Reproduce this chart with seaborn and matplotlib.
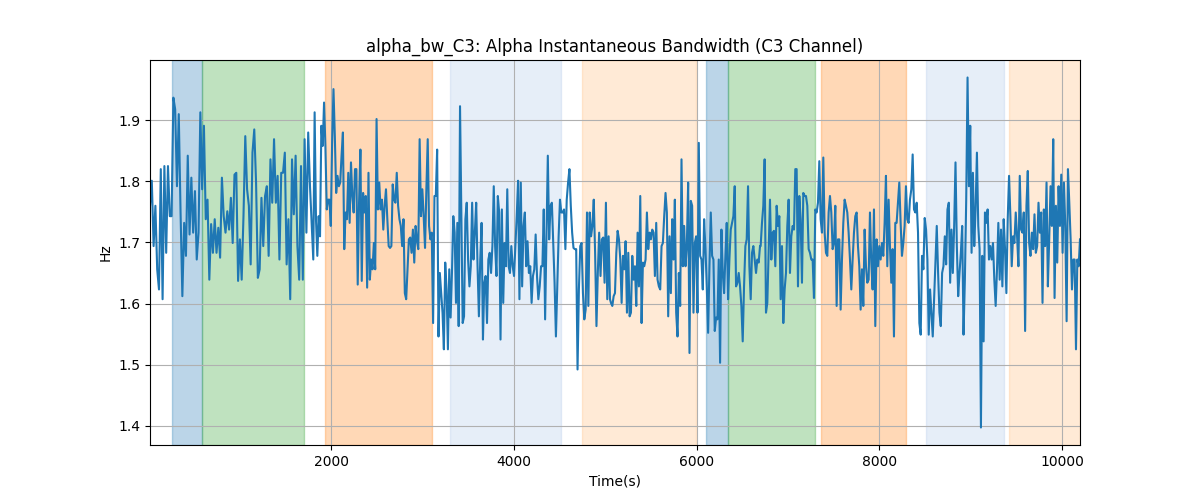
import numpy as np
import pandas as pd
import matplotlib
matplotlib.use("Agg")
import matplotlib.pyplot as plt
import seaborn as sns

# Bandwidth values (Hz) in six consecutive chunks
v1 = [1.760, 1.801, 1.694, 1.760, 1.656, 1.623, 1.820, 1.607, 1.825, 1.683, 1.825, 1.743, 1.743, 1.937, 1.918,
      1.792, 1.910, 1.749, 1.612, 1.732, 1.678, 1.842, 1.713, 1.806, 1.716, 1.784, 1.672, 1.716, 1.913, 1.787,
      1.891, 1.738, 1.770, 1.639, 1.730, 1.683, 1.738, 1.683, 1.724, 1.675, 1.806, 1.743, 1.716, 1.751, 1.721,
      1.773, 1.699, 1.811, 1.814, 1.637, 1.705, 1.639, 1.743, 1.874, 1.787, 1.760, 1.664, 1.847, 1.885, 1.798,
      1.642, 1.656, 1.773, 1.694, 1.776, 1.792, 1.678, 1.836, 1.765, 1.869, 1.765, 1.809, 1.672, 1.814, 1.814,
      1.847, 1.664, 1.738, 1.607, 1.836, 1.746, 1.842, 1.694, 1.639, 1.825, 1.639, 1.869, 1.716, 1.880, 1.792]
v2 = [1.672, 1.913, 1.738, 1.678, 1.743, 1.710, 1.891, 1.858, 1.929, 1.858, 1.754, 1.770, 1.770, 1.727, 1.863,
      1.951, 1.874, 1.781, 1.809, 1.792, 1.798, 1.842, 1.880, 1.689, 1.749, 1.738, 1.814, 1.732, 1.831, 1.776,
      1.749, 1.820, 1.820, 1.631, 1.765, 1.852, 1.637, 1.781, 1.749, 1.776, 1.626, 1.814, 1.639, 1.672, 1.656,
      1.699, 1.656, 1.902, 1.754, 1.798, 1.754, 1.770, 1.721, 1.760, 1.787, 1.738, 1.694, 1.691, 1.694, 1.795,
      1.770, 1.765, 1.814, 1.760, 1.738, 1.727, 1.694, 1.738, 1.617, 1.607, 1.656, 1.705, 1.708, 1.683, 1.721,
      1.667, 1.727, 1.702, 1.689, 1.869, 1.743, 1.787, 1.743, 1.691, 1.787, 1.869, 1.727, 1.705, 1.716, 1.568,
      1.776, 1.776, 1.852, 1.546, 1.650, 1.617, 1.585, 1.525, 1.667, 1.623, 1.525, 1.656, 1.577, 1.650, 1.743,
      1.716, 1.601, 1.732, 1.563, 1.923]
v3 = [1.568, 1.579, 1.738, 1.765, 1.672, 1.628, 1.661, 1.765, 1.672, 1.716, 1.765, 1.661, 1.579, 1.672, 1.732,
      1.541, 1.634, 1.645, 1.568, 1.672, 1.683, 1.650, 1.694, 1.792, 1.694, 1.645, 1.776, 1.749, 1.541, 1.754,
      1.601, 1.699, 1.661, 1.787, 1.661, 1.650, 1.694, 1.661, 1.645, 1.694, 1.743, 1.801, 1.607, 1.798, 1.628,
      1.727, 1.749, 1.661, 1.702, 1.650, 1.661, 1.601, 1.645, 1.656, 1.713, 1.645, 1.607, 1.628, 1.661, 1.661,
      1.754, 1.574, 1.705, 1.842, 1.705, 1.760, 1.765, 1.699, 1.634, 1.546, 1.628, 1.710, 1.770, 1.749, 1.749,
      1.754, 1.689, 1.770, 1.798, 1.820, 1.760, 1.716, 1.691, 1.689, 1.689, 1.492, 1.623, 1.694, 1.699, 1.617,
      1.574, 1.590, 1.749, 1.596, 1.749, 1.710, 1.727, 1.770, 1.683, 1.563, 1.650, 1.716, 1.645, 1.705, 1.708,
      1.634, 1.765, 1.607, 1.710, 1.607]
v4 = [1.601, 1.596, 1.612, 1.617, 1.683, 1.719, 1.705, 1.672, 1.601, 1.678, 1.656, 1.702, 1.585, 1.683, 1.579,
      1.585, 1.678, 1.639, 1.661, 1.596, 1.716, 1.628, 1.776, 1.568, 1.667, 1.661, 1.672, 1.749, 1.689, 1.716,
      1.705, 1.721, 1.716, 1.645, 1.732, 1.639, 1.628, 1.623, 1.694, 1.699, 1.743, 1.781, 1.749, 1.579, 1.710,
      1.617, 1.738, 1.672, 1.770, 1.585, 1.546, 1.650, 1.596, 1.836, 1.661, 1.727, 1.661, 1.694, 1.798, 1.519,
      1.768, 1.760, 1.585, 1.699, 1.710, 1.585, 1.863, 1.678, 1.672, 1.623, 1.738, 1.689, 1.628, 1.552, 1.661,
      1.749, 1.678, 1.672, 1.555, 1.577, 1.574, 1.672, 1.503, 1.721, 1.650, 1.617, 1.678, 1.732, 1.607, 1.672,
      1.721, 1.732, 1.743, 1.792, 1.628, 1.634, 1.650, 1.628, 1.596, 1.538, 1.628, 1.694, 1.705, 1.792, 1.661,
      1.607, 1.683, 1.694, 1.672, 1.650, 1.672, 1.667, 1.694]
v5 = [1.694, 1.732, 1.760, 1.836, 1.585, 1.601, 1.689, 1.770, 1.672, 1.716, 1.719, 1.661, 1.760, 1.727, 1.743,
      1.607, 1.694, 1.568, 1.623, 1.650, 1.727, 1.770, 1.650, 1.710, 1.727, 1.721, 1.820, 1.820, 1.628, 1.776,
      1.738, 1.634, 1.781, 1.776, 1.776, 1.760, 1.689, 1.683, 1.672, 1.672, 1.609, 1.754, 1.749, 1.765, 1.833,
      1.738, 1.716, 1.839, 1.716, 1.683, 1.678, 1.749, 1.776, 1.749, 1.689, 1.699, 1.760, 1.596, 1.705, 1.705,
      1.590, 1.672, 1.732, 1.770, 1.760, 1.749, 1.716, 1.672, 1.623, 1.672, 1.716, 1.743, 1.749, 1.694, 1.661,
      1.590, 1.656, 1.596, 1.721, 1.661, 1.634, 1.639, 1.749, 1.667, 1.623, 1.754, 1.563, 1.705, 1.661, 1.694,
      1.672, 1.699, 1.678, 1.732, 1.809, 1.661, 1.770, 1.694, 1.634, 1.689, 1.546, 1.732, 1.732, 1.765, 1.798,
      1.732, 1.678, 1.699, 1.727, 1.792, 1.738, 1.732, 1.770]
v6 = [1.787, 1.844, 1.754, 1.749, 1.765, 1.716, 1.568, 1.549, 1.678, 1.656, 1.740, 1.721, 1.672, 1.549, 1.623,
      1.585, 1.546, 1.607, 1.667, 1.727, 1.650, 1.585, 1.563, 1.650, 1.661, 1.710, 1.664, 1.754, 1.765, 1.634,
      1.721, 1.650, 1.727, 1.831, 1.694, 1.612, 1.650, 1.683, 1.727, 1.549, 1.639, 1.770, 1.970, 1.792, 1.891,
      1.683, 1.814, 1.694, 1.754, 1.847, 1.727, 1.689, 1.397, 1.678, 1.538, 1.749, 1.732, 1.754, 1.672, 1.694,
      1.672, 1.699, 1.639, 1.596, 1.656, 1.732, 1.639, 1.721, 1.628, 1.738, 1.689, 1.617, 1.738, 1.809, 1.743,
      1.661, 1.710, 1.699, 1.749, 1.710, 1.661, 1.809, 1.721, 1.716, 1.749, 1.555, 1.760, 1.817, 1.699, 1.678,
      1.716, 1.689, 1.746, 1.683, 1.694, 1.765, 1.716, 1.749, 1.601, 1.754, 1.694, 1.798, 1.628, 1.705, 1.792,
      1.727, 1.869, 1.609, 1.760, 1.667, 1.792, 1.727, 1.811, 1.683, 1.798, 1.727, 1.571, 1.820, 1.765, 1.705,
      1.623, 1.672, 1.672, 1.525, 1.672, 1.661, 1.705]

chunks = [v1, v2, v3, v4, v5, v6]
# Time range (s) covered by each chunk
chunk_bounds = [(19, 1770), (1806, 3412), (3441, 5053), (5064, 6695), (6702, 8336), (8351, 10197)]

# Shaded segments: (start, end, colour)
span_starts = [260, 588, 1934, 3302, 4747, 6103, 6344, 7363, 8512, 9420]
span_ends = [588, 1704, 3105, 4517, 5994, 6344, 7297, 8293, 9365, 10197]
span_colors = ["#1f77b4", "#2ca02c", "#ff7f0e", "#aec7e8", "#ffbb78",
               "#1f77b4", "#2ca02c", "#ff7f0e", "#aec7e8", "#ffbb78"]

t_all, v_all = [], []
for vals, (a, b) in zip(chunks, chunk_bounds):
    t_all.append(np.linspace(a, b, len(vals)))
    v_all.append(np.asarray(vals))
df = pd.DataFrame({"Time(s)": np.concatenate(t_all), "Hz": np.concatenate(v_all)})

fig, ax = plt.subplots(figsize=(12, 5), dpi=100)
for s, e, c in zip(span_starts, span_ends, span_colors):
    ax.axvspan(s, e, color=c, alpha=0.3, linewidth=1)
sns.lineplot(data=df, x="Time(s)", y="Hz", ax=ax, color="#1f77b4", linewidth=1.5,
             estimator=None, sort=True)
ax.set_xlim(chunk_bounds[0][0], chunk_bounds[-1][1])
ax.grid(True)
ax.set_title("alpha_bw_C3: Alpha Instantaneous Bandwidth (C3 Channel)")
ax.set_xlabel("Time(s)")
ax.set_ylabel("Hz")
fig.savefig("out.png", dpi=100)
